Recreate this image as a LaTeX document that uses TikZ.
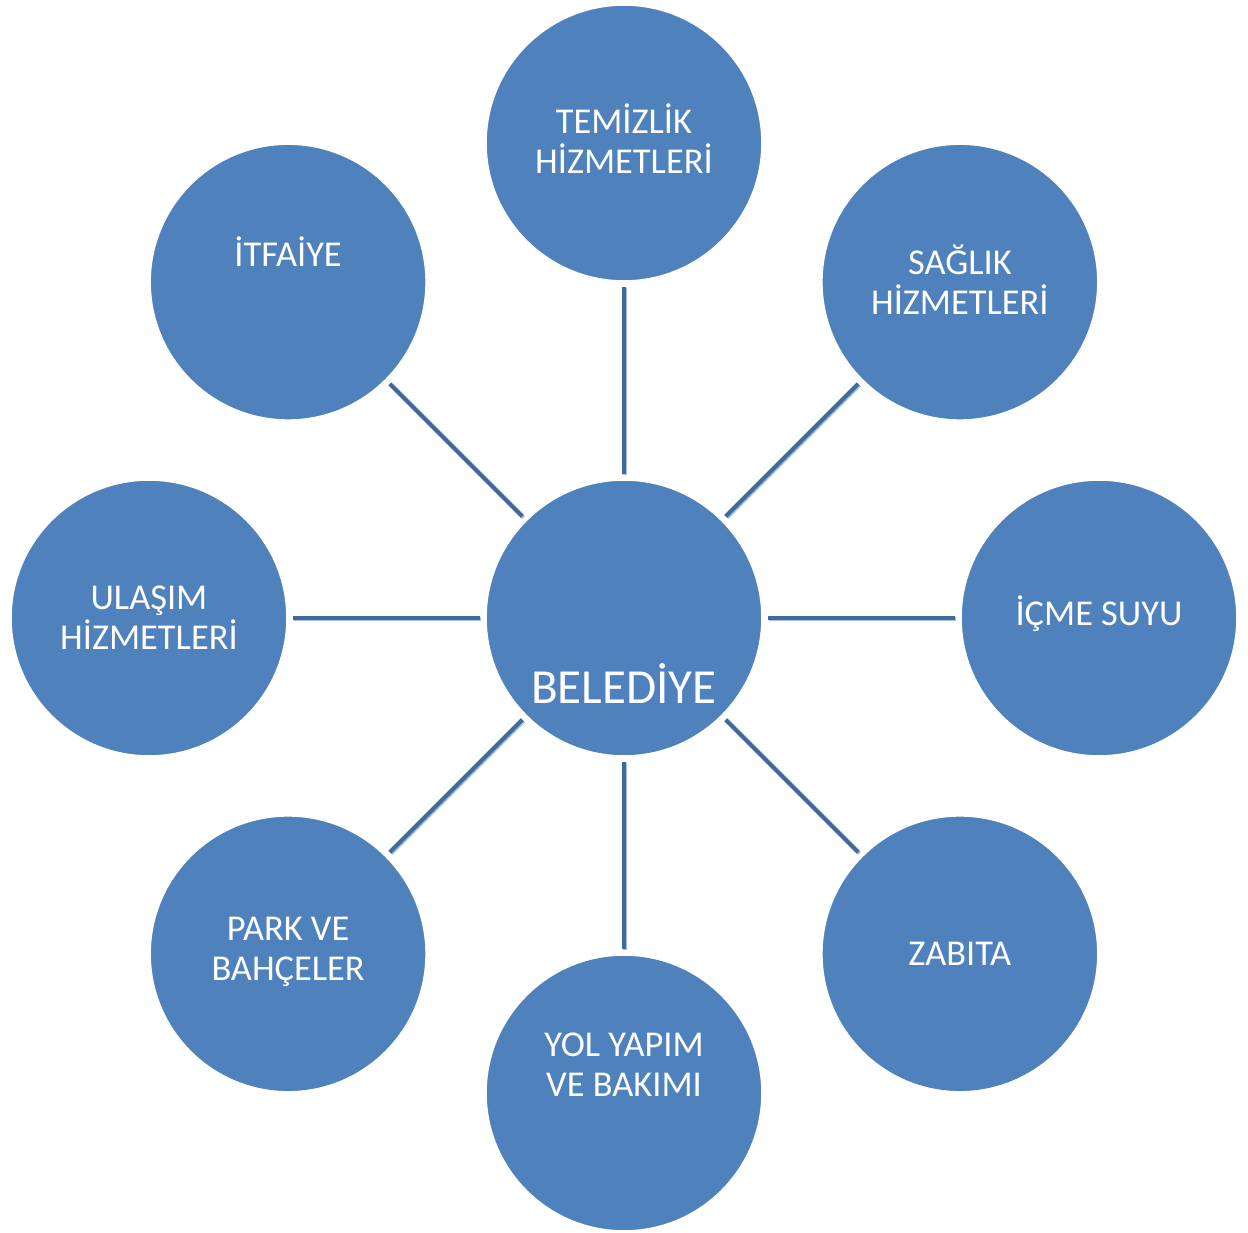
\documentclass[tikz,border=0pt]{standalone}
\usepackage{fontspec}
\setmainfont{Carlito}
\definecolor{cblue}{HTML}{4F81BD}
\definecolor{lblue}{HTML}{3F6A9E}
\definecolor{sblue}{HTML}{A9BFDB}
\tikzset{
  unit/.style={circle,fill=cblue,draw=white,line width=0.8pt,minimum size=138pt,inner sep=0pt},
  lbl/.style={text=white,font=\fontsize{18.2}{20}\selectfont,align=center},
  link/.style={lblue,line width=2.1pt,shorten >=2.5pt,shorten <=2.5pt,
    preaction={draw=sblue,line width=2.1pt,transform canvas={xshift=0.6pt,yshift=-0.6pt}}}
}
\begin{document}
\begin{tikzpicture}
  \useasboundingbox (-312pt,-307pt) rectangle (312pt,309pt);
  \node[unit] (B) at (0,0) {};
  \node[lbl,font=\fontsize{24.5}{26}\selectfont] at ([yshift=-33pt]B) {BELED\.IYE};

  \foreach \a/\n in {90/T,45/S,0/I,-45/Z,-90/Y,-135/P,180/U,135/F}{%
    \node[unit] (N-\n) at (\a:237.5pt) {};
  }

  \foreach \n in {T,S,I,Z,Y,P,U,F}{%
    \path (B) edge[link] (N-\n);
  }

  \node[lbl] at ([yshift=2pt]N-T) {TEM\.IZL\.IK\\H\.IZMETLER\.I};
  \node[lbl] at ([yshift=1pt]N-S) {SAĞLIK\\H\.IZMETLER\.I};
  \node[lbl] at ([yshift=2pt]N-I) {\.IÇME SUYU};
  \node[lbl] at ([yshift=0pt]N-Z) {ZABITA};
  \node[lbl] at ([yshift=14pt]N-Y) {YOL YAPIM\\VE BAKIMI};
  \node[lbl] at ([yshift=1pt]N-P) {PARK VE\\BAHÇELER};
  \node[lbl] at ([yshift=0pt]N-U) {ULAŞIM\\H\.IZMETLER\.I};
  \node[lbl] at ([yshift=15pt]N-F) {\.ITFA\.IYE};
\end{tikzpicture}
\end{document}
